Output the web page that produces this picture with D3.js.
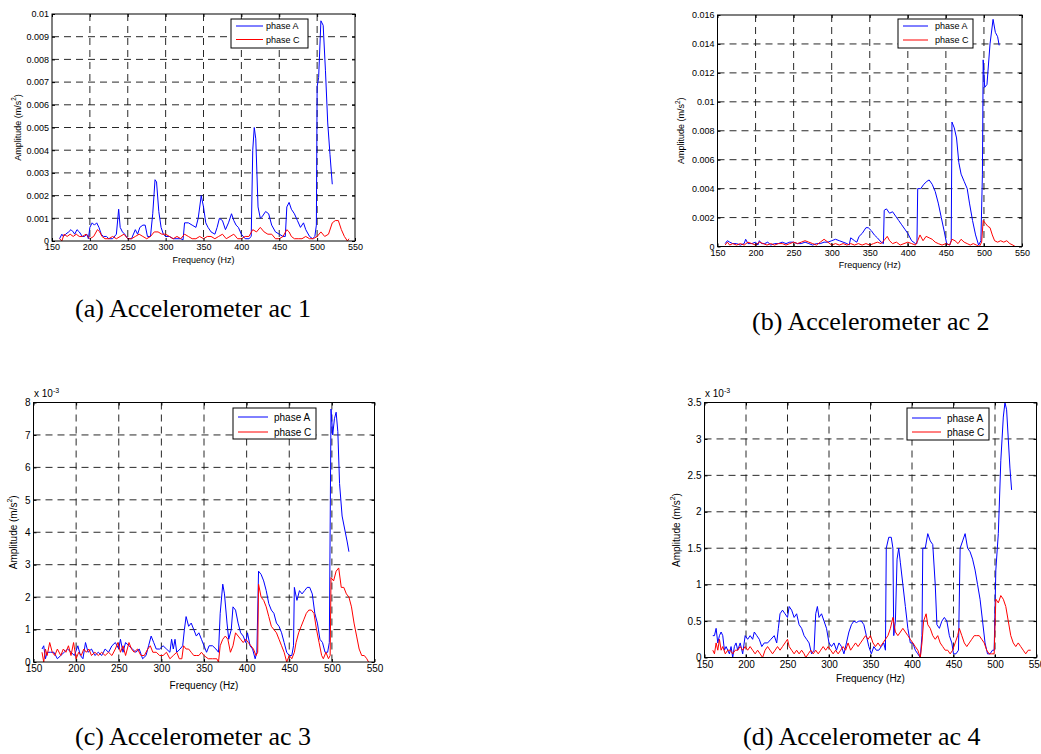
<!DOCTYPE html>
<html>
<head>
<meta charset="utf-8">
<script src="https://cdn.jsdelivr.net/npm/d3@7"></script>
<style>
body { margin: 0; background: #fff; }
</style>
</head>
<body>
<svg id="fig" width="1041" height="754"></svg>
<script>
// ---- data ----
var xTicks = [150, 200, 250, 300, 350, 400, 450, 500, 550];

var ac1YTicks = [0, 0.001, 0.002, 0.003, 0.004, 0.005, 0.006, 0.007, 0.008, 0.009, 0.01];
var ac1YLabels = ['0', '0.001', '0.002', '0.003', '0.004', '0.005', '0.006', '0.007', '0.008', '0.009', '0.01'];
var ac2YTicks = [0, 0.002, 0.004, 0.006, 0.008, 0.01, 0.012, 0.014, 0.016];
var ac2YLabels = ['0', '0.002', '0.004', '0.006', '0.008', '0.01', '0.012', '0.014', '0.016'];
// ac3 / ac4 are in units of 1e-3 m/s^2
var ac3YTicks = [0, 1, 2, 3, 4, 5, 6, 7, 8];
var ac3YLabels = ['0', '1', '2', '3', '4', '5', '6', '7', '8'];
var ac4YTicks = [0, 0.5, 1, 1.5, 2, 2.5, 3, 3.5];
var ac4YLabels = ['0', '0.5', '1', '1.5', '2', '2.5', '3', '3.5'];

var seriesNames = ['phase A', 'phase C'];

// [frequency Hz, amplitude]
var ac1PhaseA = [[160,0.0001],[163,0.0003],[165,0.0002],[168,0.0003],[172,0.0004],[175,0.0005],[178,0.0004],[180,0.0003],
	[183,0.0005],[186,0.0004],[190,0.0002],[193,0.0002],[196,0.0003],[198,0.0001],[200,0.0006],[203,0.0008],[206,0.0007],
	[209,0.0008],[212,0.0006],[215,0.0003],[218,0.0002],[222,0.0002],[225,0.0001],[230,0.0001],[235,0.0003],[238,0.0014],
	[240,0.0006],[243,0.0004],[246,0.0003],[250,0.0001],[255,0.0001],[260,0.0005],[263,0.0003],[266,0.0006],[270,0.0007],
	[273,0.0007],[276,0.0002],[280,0.0002],[283,0.0012],[286,0.0027],[288,0.0026],[291,0.0013],[294,0.0006],[297,0.0003],
	[300,0.0002],[305,0.0002],[310,0.0001],[315,0.0001],[320,0.0001],[323,0.00005],[325,0.0008],[330,0.0008],[335,0.0007],
	[340,0.0006],[343,0.0010],[347,0.0020],[350,0.0015],[353,0.0008],[356,0.0006],[360,0.0004],[365,0.0003],[368,0.0006],
	[371,0.0010],[375,0.0009],[379,0.0005],[383,0.0008],[387,0.0012],[390,0.0009],[393,0.0007],[396,0.0006],[400,0.0003],
	[405,0.0001],[410,0.0001],[413,0.0002],[415,0.0040],[417,0.0050],[419,0.0045],[422,0.0015],[425,0.0010],[428,0.0011],
	[432,0.0013],[436,0.0012],[440,0.0007],[445,0.0004],[450,0.0003],[455,0.0002],[458,0.0002],[460,0.0015],[463,0.0017],
	[466,0.0014],[470,0.0012],[474,0.0009],[478,0.0006],[482,0.0008],[485,0.0005],[490,0.0002],[494,0.0001],[497,0.0002],
	[499,0.0007],[500,0.0068],[502,0.0072],[505,0.0097],[508,0.0095],[511,0.0075],[514,0.0052],[517,0.0038],[520,0.0025]];
var ac1PhaseC = [[160,0.0001],[163,0.0000],[166,0.0003],[170,0.0002],[174,0.0003],[178,0.0002],[182,0.0003],[186,0.0002],
	[190,0.0002],[195,0.0003],[200,0.0001],[205,0.0002],[210,0.0005],[213,0.0004],[216,0.0002],[220,0.0001],[225,0.0001],
	[230,0.0002],[235,0.0001],[240,0.0002],[245,0.0003],[250,0.0001],[255,0.0001],[260,0.0002],[265,0.0003],[270,0.0002],
	[275,0.0001],[280,0.0002],[285,0.0004],[290,0.0004],[295,0.0003],[300,0.0003],[305,0.0002],[310,0.0001],[315,0.0002],
	[320,0.0001],[325,0.0003],[330,0.0002],[335,0.0001],[340,0.0001],[345,0.0002],[350,0.0001],[355,0.0002],[360,0.0002],
	[365,0.0001],[370,0.0002],[375,0.0003],[380,0.0001],[385,0.0002],[390,0.0003],[395,0.0001],[400,0.0001],[405,0.0002],
	[410,0.0002],[415,0.0005],[420,0.0004],[425,0.0006],[430,0.0004],[435,0.0003],[440,0.0003],[445,0.0001],[450,0.0001],
	[455,0.0002],[460,0.0005],[463,0.0004],[466,0.0002],[470,0.0001],[475,0.0001],[480,0.0001],[485,0.0002],[490,0.0001],
	[495,0.0001],[500,0.0002],[505,0.0004],[510,0.0002],[515,0.0003],[520,0.0008],[524,0.0009],[528,0.0009],[532,0.0005],
	[536,0.0002],[540,0.0000],[542,0.0001]];

var ac2PhaseA = [[160,0.0002],[163,0.0004],[166,0.0003],[170,0.0002],[175,0.0002],[180,0.0001],[185,0.0002],[187,0.0005],
	[190,0.0002],[195,0.0002],[200,0.0003],[203,0.0001],[205,0.0004],[208,0.0002],[212,0.0002],[216,0.0003],[220,0.0001],
	[225,0.0002],[230,0.0002],[235,0.0003],[240,0.0002],[245,0.0003],[250,0.0003],[255,0.0002],[260,0.0002],[265,0.0003],
	[270,0.0002],[275,0.0001],[280,0.0002],[285,0.0002],[290,0.0003],[295,0.0003],[300,0.0004],[305,0.0005],[310,0.0004],
	[315,0.0003],[320,0.0002],[323,0.0001],[325,0.0006],[330,0.0004],[333,0.0003],[336,0.0007],[340,0.0009],[345,0.0013],
	[348,0.0013],[352,0.0011],[356,0.0008],[360,0.0006],[365,0.0003],[368,0.0002],[369,0.0025],[372,0.0026],[376,0.0023],
	[380,0.0024],[384,0.0021],[388,0.0018],[392,0.0015],[396,0.0012],[400,0.0009],[405,0.0004],[410,0.0002],[412,0.0002],
	[413,0.0040],[417,0.0040],[421,0.0043],[425,0.0045],[428,0.0046],[432,0.0043],[436,0.0038],[440,0.0030],[444,0.0020],
	[448,0.0010],[451,0.0002],[455,0.0001],[457,0.0004],[458,0.0086],[461,0.0082],[464,0.0075],[467,0.0058],[470,0.0050],
	[474,0.0045],[478,0.0040],[481,0.0030],[485,0.0018],[489,0.0008],[493,0.0001],[496,0.0004],[498,0.0050],[499,0.0129],
	[501,0.0110],[504,0.0112],[508,0.0140],[512,0.0157],[515,0.0148],[518,0.0145],[520,0.0139]];
var ac2PhaseC = [[160,0.0001],[163,0.0003],[166,0.0001],[170,0.0002],[175,0.0001],[180,0.0002],[185,0.0001],[190,0.0003],
	[195,0.0002],[200,0.0001],[205,0.0003],[210,0.0002],[215,0.0001],[220,0.0002],[225,0.0001],[230,0.0002],[235,0.0002],
	[240,0.0001],[245,0.0002],[250,0.0003],[255,0.0002],[260,0.0003],[265,0.0004],[270,0.0003],[275,0.0002],[280,0.0001],
	[285,0.0003],[290,0.0005],[295,0.0003],[300,0.0001],[305,0.0002],[310,0.0001],[315,0.0002],[320,0.0001],[325,0.0002],
	[330,0.0001],[335,0.0002],[340,0.0001],[345,0.0002],[350,0.0001],[355,0.0002],[360,0.0003],[365,0.0002],[370,0.0005],
	[373,0.0007],[376,0.0004],[380,0.0002],[385,0.0003],[390,0.0001],[395,0.0002],[400,0.0003],[405,0.0002],[410,0.0001],
	[413,0.0004],[416,0.0008],[420,0.0004],[424,0.0007],[428,0.0006],[432,0.0005],[436,0.0003],[440,0.0002],[445,0.0001],
	[450,0.0002],[455,0.0001],[458,0.0005],[462,0.0004],[466,0.0002],[470,0.0005],[474,0.0003],[478,0.0002],[482,0.0001],
	[486,0.0002],[490,0.0001],[494,0.0000],[497,0.0003],[499,0.0018],[502,0.0016],[505,0.0014],[508,0.0013],[511,0.0008],
	[514,0.0004],[518,0.0003],[522,0.0004],[526,0.0003],[530,0.0004],[534,0.0002],[538,0.0001],[541,0.0000]];

var ac3PhaseA = [[160,0.4],[162,0.5],[164,0.1],[166,0.3],[170,0.3],[174,0.3],[178,0.1],[182,0.2],[186,0.3],[190,0.4],
	[194,0.3],[198,0.2],[202,0.5],[205,0.2],[208,0.1],[211,0.6],[214,0.3],[218,0.4],[222,0.2],[226,0.3],[230,0.2],[234,0.4],
	[238,0.3],[242,0.5],[246,0.6],[250,0.4],[252,0.7],[255,0.3],[258,0.6],[262,0.5],[266,0.4],[270,0.3],[274,0.4],[278,0.1],
	[282,0.2],[285,0.5],[288,0.8],[291,0.6],[294,0.4],[298,0.4],[302,0.5],[306,0.4],[310,0.3],[312,0.7],[314,0.4],[316,0.7],
	[318,0.3],[322,0.4],[325,0.5],[327,1.0],[329,1.4],[332,1.1],[335,1.2],[338,1.0],[341,0.8],[344,0.9],[347,0.7],[350,0.5],
	[353,0.3],[356,0.5],[360,0.5],[364,0.4],[367,0.3],[369,1.5],[372,2.4],[374,2.1],[377,1.2],[379,0.7],[382,1.0],[384,1.7],
	[387,1.6],[390,1.2],[393,0.9],[396,0.8],[399,0.6],[401,0.9],[404,0.5],[407,0.4],[410,0.1],[412,0.3],[414,2.8],[417,2.7],
	[420,2.5],[423,2.2],[426,1.8],[429,1.6],[432,1.5],[435,1.2],[438,1.1],[441,0.9],[444,0.6],[447,0.3],[450,0.2],[453,0.2],
	[455,0.5],[456,2.3],[459,1.9],[462,2.2],[465,2.1],[468,2.2],[471,2.3],[474,2.3],[477,2.1],[480,1.5],[483,1.2],[486,0.7],
	[489,0.6],[492,0.3],[495,0.3],[497,0.6],[499,7.8],[501,7.0],[503,7.5],[505,7.7],[507,7.1],[509,5.5],[512,4.5],[515,4.1],
	[518,3.7],[520,3.4]];
var ac3PhaseC = [[160,0.3],[162,0.0],[164,0.4],[166,0.2],[169,0.6],[172,0.3],[175,0.2],[178,0.4],[182,0.2],[185,0.4],
	[188,0.3],[191,0.5],[194,0.2],[197,0.6],[200,0.1],[203,0.3],[206,0.2],[209,0.4],[212,0.3],[215,0.4],[218,0.2],[222,0.3],
	[226,0.2],[230,0.3],[234,0.2],[238,0.3],[242,0.2],[246,0.4],[249,0.6],[252,0.3],[255,0.5],[258,0.2],[262,0.6],[265,0.4],
	[268,0.3],[272,0.4],[276,0.2],[280,0.2],[284,0.4],[287,0.5],[290,0.3],[294,0.3],[298,0.2],[302,0.2],[306,0.3],[310,0.1],
	[314,0.2],[318,0.3],[321,0.1],[324,0.1],[326,0.5],[329,0.4],[332,0.4],[335,0.3],[338,0.2],[341,0.2],[344,0.2],[347,0.3],
	[350,0.2],[355,0.1],[360,0.1],[365,0.1],[367,0.0],[369,0.5],[372,0.7],[375,0.8],[378,0.7],[381,0.3],[384,0.5],[387,0.9],
	[390,0.8],[393,0.7],[396,0.6],[399,0.7],[402,0.6],[405,0.5],[408,0.4],[411,0.2],[413,0.3],[414,2.4],[417,2.0],[420,1.9],
	[423,1.7],[426,1.4],[429,1.1],[432,1.0],[435,0.9],[438,0.7],[441,0.5],[444,0.3],[447,0.0],[450,0.2],[453,0.1],[456,0.3],
	[458,0.6],[461,0.9],[464,1.1],[467,1.3],[470,1.5],[473,1.6],[476,1.6],[479,1.5],[482,1.0],[485,0.6],[488,0.2],[490,0.1],
	[493,0.3],[496,0.1],[498,0.2],[499,2.6],[502,2.5],[505,2.8],[508,2.9],[511,2.3],[514,2.3],[517,2.1],[520,2.0],[523,1.7],
	[526,1.2],[529,0.8],[532,0.4],[535,0.2],[538,0.2],[541,0.1],[543,0.0]];

var ac4PhaseA = [[160,0.3],[162,0.3],[164,0.4],[166,0.2],[168,0.3],[170,0.35],[172,0.3],[174,0.1],[176,0.15],[178,0.1],
	[180,0.05],[182,0.15],[184,0.0],[186,0.15],[188,0.2],[190,0.1],[193,0.2],[196,0.05],[199,0.3],[202,0.25],[205,0.3],
	[208,0.25],[210,0.35],[213,0.3],[216,0.25],[219,0.15],[222,0.2],[226,0.2],[230,0.25],[234,0.3],[237,0.2],[239,0.4],
	[241,0.6],[244,0.65],[247,0.6],[250,0.55],[252,0.7],[255,0.65],[258,0.55],[261,0.6],[264,0.45],[267,0.4],[270,0.3],
	[273,0.25],[276,0.2],[279,0.05],[282,0.1],[284,0.6],[286,0.7],[288,0.55],[291,0.6],[294,0.5],[297,0.4],[300,0.2],
	[303,0.15],[306,0.2],[309,0.1],[312,0.2],[315,0.15],[318,0.05],[321,0.2],[324,0.35],[327,0.45],[330,0.5],[333,0.48],
	[336,0.5],[339,0.5],[342,0.45],[345,0.3],[348,0.15],[351,0.05],[354,0.15],[357,0.1],[360,0.1],[363,0.15],[366,0.2],
	[368,0.1],[369,1.5],[372,1.65],[375,1.65],[377,1.5],[378,0.3],[380,0.5],[382,1.35],[384,1.5],[386,1.3],[389,1.0],
	[392,0.7],[395,0.4],[398,0.2],[401,0.2],[404,0.1],[407,0.05],[410,0.0],[412,0.3],[413,1.5],[416,1.5],[419,1.7],[422,1.6],
	[425,1.55],[428,1.0],[430,0.45],[433,0.4],[436,0.5],[439,0.55],[442,0.5],[445,0.3],[448,0.2],[450,0.05],[453,0.05],
	[456,0.1],[458,1.5],[461,1.6],[464,1.7],[467,1.5],[470,1.45],[473,1.35],[476,1.2],[479,1.0],[482,0.8],[485,0.5],
	[488,0.2],[491,0.05],[494,0.05],[497,0.1],[499,0.1],[501,1.2],[504,1.7],[507,2.7],[510,3.3],[512,3.5],[514,3.4],
	[516,3.0],[518,2.6],[520,2.3]];
var ac4PhaseC = [[160,0.1],[162,0.05],[164,0.2],[166,0.1],[168,0.25],[170,0.1],[172,0.15],[175,0.05],[178,0.1],[181,0.1],
	[184,0.05],[187,0.1],[190,0.1],[193,0.15],[196,0.1],[199,0.15],[202,0.1],[205,0.15],[208,0.1],[211,0.05],[214,0.1],
	[217,0.05],[220,0.0],[223,0.1],[226,0.15],[229,0.1],[232,0.05],[235,0.1],[238,0.15],[241,0.1],[244,0.15],[247,0.2],
	[250,0.25],[252,0.15],[255,0.1],[258,0.05],[261,0.1],[264,0.05],[267,0.1],[270,0.05],[272,0.0],[275,0.05],[278,0.1],
	[281,0.05],[284,0.1],[287,0.05],[290,0.1],[293,0.15],[296,0.1],[299,0.15],[302,0.1],[305,0.05],[308,0.1],[311,0.05],
	[314,0.1],[317,0.15],[320,0.1],[323,0.2],[326,0.1],[329,0.15],[332,0.2],[335,0.15],[338,0.2],[341,0.25],[344,0.3],
	[347,0.25],[350,0.3],[353,0.2],[356,0.15],[359,0.2],[362,0.15],[365,0.2],[368,0.25],[371,0.3],[374,0.4],[377,0.55],
	[380,0.35],[383,0.3],[386,0.35],[389,0.4],[392,0.35],[395,0.3],[398,0.25],[401,0.2],[404,0.15],[407,0.1],[410,0.0],
	[412,0.2],[414,0.5],[417,0.6],[419,0.45],[422,0.4],[425,0.3],[428,0.25],[431,0.3],[434,0.2],[437,0.15],[440,0.1],
	[443,0.1],[446,0.05],[449,0.1],[452,0.2],[455,0.3],[457,0.4],[460,0.3],[463,0.2],[466,0.15],[469,0.2],[472,0.25],
	[475,0.3],[478,0.3],[481,0.3],[484,0.25],[487,0.2],[490,0.1],[493,0.05],[496,0.05],[499,0.05],[501,0.8],[504,0.75],
	[507,0.85],[510,0.8],[513,0.7],[516,0.5],[519,0.3],[522,0.2],[525,0.15],[528,0.2],[531,0.15],[534,0.1],[537,0.05],
	[540,0.1],[543,0.1]];

// ---- layout (screen positions of each subplot) ----
var SANS = '"Liberation Sans", Arial, Helvetica, sans-serif';
var SERIF = '"Liberation Serif", "Times New Roman", serif';
var BLUE = '#0000ff';
var RED = '#ff0000';

var panels = [
	{ left: 52, top: 14, right: 355, bottom: 241, font: 9,
		yTicks: ac1YTicks, yLabels: ac1YLabels, phaseA: ac1PhaseA, phaseC: ac1PhaseC, exponent: false,
		yLabelX: 17.5, xLabelY: 263,
		legend: { x: 231, y: 19, w: 77, h: 29, line: 27, text: 266, rowA: 26, rowC: 39.5 },
		caption: '(a) Accelerometer ac 1', capX: 75, capY: 317 },
	{ left: 717.5, top: 15, right: 1022, bottom: 246.5, font: 9,
		yTicks: ac2YTicks, yLabels: ac2YLabels, phaseA: ac2PhaseA, phaseC: ac2PhaseC, exponent: false,
		yLabelX: 681, xLabelY: 268,
		legend: { x: 898, y: 19, w: 75, h: 29, line: 25, text: 935, rowA: 26, rowC: 40 },
		caption: '(b) Accelerometer ac 2', capX: 752, capY: 330 },
	{ left: 33.5, top: 402.5, right: 374.5, bottom: 662, font: 10,
		yTicks: ac3YTicks, yLabels: ac3YLabels, phaseA: ac3PhaseA, phaseC: ac3PhaseC, exponent: true,
		yLabelX: 13, xLabelY: 689,
		legend: { x: 233, y: 408, w: 83, h: 31, line: 30, text: 274, rowA: 417, rowC: 432 },
		caption: '(c) Accelerometer ac 3', capX: 75, capY: 745 },
	{ left: 704.5, top: 402.5, right: 1036.5, bottom: 657.5, font: 10,
		yTicks: ac4YTicks, yLabels: ac4YLabels, phaseA: ac4PhaseA, phaseC: ac4PhaseC, exponent: true,
		yLabelX: 676, xLabelY: 682,
		legend: { x: 907, y: 408, w: 82, h: 32, line: 29, text: 947, rowA: 418, rowC: 432 },
		caption: '(d) Accelerometer ac 4', capX: 743, capY: 745 }
];

var svg = d3.select('#fig');

panels.forEach(function(p){
	drawPanel(p);
});

function drawPanel(p){
	var x = d3.scaleLinear()
		.domain([xTicks[0], xTicks[xTicks.length - 1]])
		.range([p.left, p.right]);
	var y = d3.scaleLinear()
		.domain([p.yTicks[0], p.yTicks[p.yTicks.length - 1]])
		.range([p.bottom, p.top]);

	var g = svg.append('g')
		.attr('font-family', SANS)
		.attr('font-size', p.font);

	// dashed grid
	g.selectAll('line.vgrid')
		.data(xTicks.slice(1, -1))
		.enter().append('line')
		.attr('class', 'vgrid')
		.attr('x1', function(d){ return x(d); })
		.attr('x2', function(d){ return x(d); })
		.attr('y1', p.top)
		.attr('y2', p.bottom)
		.attr('stroke', '#111')
		.attr('stroke-width', 0.9)
		.attr('stroke-dasharray', '7,5');
	g.selectAll('line.hgrid')
		.data(p.yTicks.slice(1, -1))
		.enter().append('line')
		.attr('class', 'hgrid')
		.attr('x1', p.left)
		.attr('x2', p.right)
		.attr('y1', function(d){ return y(d); })
		.attr('y2', function(d){ return y(d); })
		.attr('stroke', '#111')
		.attr('stroke-width', 0.9)
		.attr('stroke-dasharray', '7,5');

	// curves
	var line = d3.line()
		.x(function(d){ return x(d[0]); })
		.y(function(d){ return y(d[1]); });
	g.append('path')
		.datum(p.phaseA)
		.attr('d', line)
		.attr('fill', 'none')
		.attr('stroke', BLUE)
		.attr('stroke-width', 1);
	g.append('path')
		.datum(p.phaseC)
		.attr('d', line)
		.attr('fill', 'none')
		.attr('stroke', RED)
		.attr('stroke-width', 1);

	// axes, ticks pointing inward like matlab
	var bottomAxis = g.append('g')
		.attr('transform', 'translate(0,' + p.bottom + ')')
		.call(d3.axisBottom(x).tickValues(xTicks).tickSize(-3).tickPadding(3).tickFormat(d3.format('d')));
	var topAxis = g.append('g')
		.attr('transform', 'translate(0,' + p.top + ')')
		.call(d3.axisTop(x).tickValues(xTicks).tickSize(-3).tickFormat(''));
	var leftAxis = g.append('g')
		.attr('transform', 'translate(' + p.left + ',0)')
		.call(d3.axisLeft(y).tickValues(p.yTicks).tickSize(-3).tickPadding(3)
			.tickFormat(function(d, i){ return p.yLabels[i]; }));
	var rightAxis = g.append('g')
		.attr('transform', 'translate(' + p.right + ',0)')
		.call(d3.axisRight(y).tickValues(p.yTicks).tickSize(-3).tickFormat(''));

	[bottomAxis, topAxis, leftAxis, rightAxis].forEach(function(a){
		a.attr('font-family', SANS).attr('font-size', p.font);
		a.select('.domain').remove();
		a.selectAll('text').attr('fill', '#000');
	});

	// frame
	g.append('rect')
		.attr('x', p.left)
		.attr('y', p.top)
		.attr('width', p.right - p.left)
		.attr('height', p.bottom - p.top)
		.attr('fill', 'none')
		.attr('stroke', '#000')
		.attr('stroke-width', 1);

	// axis labels
	g.append('text')
		.attr('x', (p.left + p.right) / 2)
		.attr('y', p.xLabelY)
		.attr('text-anchor', 'middle')
		.text('Frequency (Hz)');

	var yl = g.append('text')
		.attr('transform', 'translate(' + p.yLabelX + ',' + ((p.top + p.bottom) / 2) + ') rotate(-90)')
		.attr('dy', '0.35em')
		.attr('text-anchor', 'middle');
	yl.append('tspan').text('Amplitude (m/s');
	yl.append('tspan').attr('font-size', p.font * 0.7).attr('dy', '-0.7em').text('2');
	yl.append('tspan').attr('dy', '0.49em').text(')');

	if (p.exponent){
		var ex = g.append('text')
			.attr('x', p.left + 0.5)
			.attr('y', p.top - 6);
		ex.append('tspan').text('x 10');
		ex.append('tspan').attr('font-size', p.font * 0.7).attr('dy', '-0.5em').text('-3');
	}

	// legend
	var lg = p.legend;
	g.append('rect')
		.attr('x', lg.x)
		.attr('y', lg.y)
		.attr('width', lg.w)
		.attr('height', lg.h)
		.attr('fill', '#fff')
		.attr('stroke', '#000')
		.attr('stroke-width', 1);
	var rows = [lg.rowA, lg.rowC];
	var colors = [BLUE, RED];
	for (var i = 0; i < seriesNames.length; i++){
		g.append('line')
			.attr('x1', lg.x + 5)
			.attr('x2', lg.x + 5 + lg.line)
			.attr('y1', rows[i])
			.attr('y2', rows[i])
			.attr('stroke', colors[i])
			.attr('stroke-width', 1);
		g.append('text')
			.attr('x', lg.text)
			.attr('y', rows[i])
			.attr('dy', '0.35em')
			.text(seriesNames[i]);
	}

	// caption under the subplot
	svg.append('text')
		.attr('x', p.capX)
		.attr('y', p.capY)
		.attr('font-family', SERIF)
		.attr('font-size', 26)
		.attr('fill', '#000')
		.text(p.caption);
}
</script>
</body>
</html>
